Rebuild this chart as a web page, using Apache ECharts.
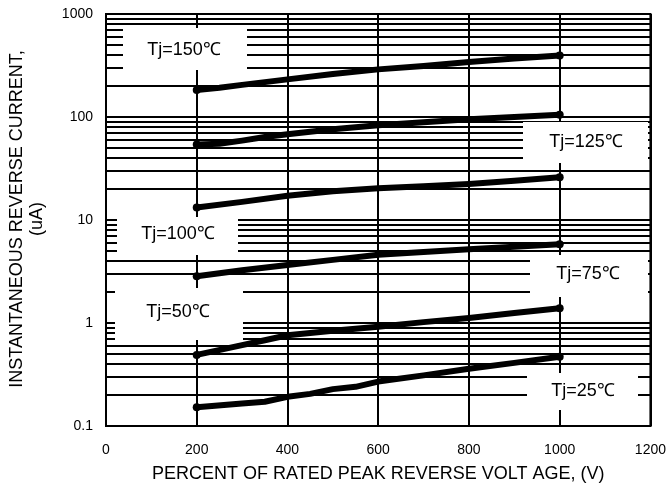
<!DOCTYPE html>
<html>
<head>
<meta charset="utf-8">
<script src="https://cdn.jsdelivr.net/npm/echarts@6/dist/echarts.min.js"></script>
<style>html,body{margin:0;padding:0;background:#fff}#c{width:669px;height:489px}</style>
</head>
<body>
<div id="c"></div>
<script>
// ---- data ----
var xTickLabels = ['0', '200', '400', '600', '800', '1000', '1200'];
var yTickLabels = ['0.1', '1', '10', '100', '1000'];
var minorGridValues = [0.2, 0.3, 0.4, 0.5, 0.6, 0.7, 0.8, 0.9,
                       2, 3, 4, 5, 6, 7, 8, 9,
                       20, 30, 40, 50, 60, 70, 80, 90,
                       200, 300, 400, 500, 600, 700, 800, 900];
var seriesNames = ['Tj=150℃', 'Tj=125℃', 'Tj=100℃', 'Tj=75℃', 'Tj=50℃', 'Tj=25℃'];
var tj150 = [[200,183],[250,192],[300,205],[400,232],[500,262],[600,290],[700,312],[800,342],[900,370],[1000,395]];
var tj125 = [[200,54],[250,55],[300,59],[350,64],[400,68],[500,76],[600,83],[700,89],[800,95],[900,100],[1000,105]];
var tj100 = [[200,13.2],[300,15],[400,17.2],[500,19],[600,20.3],[700,21.3],[800,22.4],[900,24],[1000,26]];
var tj75  = [[200,2.85],[300,3.25],[400,3.65],[500,4.1],[600,4.6],[700,4.9],[800,5.2],[900,5.5],[1000,5.8]];
var tj50  = [[200,0.49],[300,0.61],[350,0.68],[400,0.76],[500,0.84],[600,0.92],[700,1.02],[800,1.12],[900,1.25],[1000,1.39]];
var tj25  = [[200,0.152],[300,0.165],[350,0.172],[400,0.192],[450,0.205],[500,0.228],[550,0.24],[600,0.27],[700,0.31],[800,0.36],[900,0.41],[1000,0.47]];
var allSeries = [tj150, tj125, tj100, tj75, tj50, tj25];

// ---- layout (pixels) for annotation boxes ----
var boxes = [
  {x:123, y:28,  w:124, h:42, tx:184, ty:50},
  {x:523, y:122, w:125, h:41, tx:586, ty:142},
  {x:117, y:217, w:121, h:38, tx:178, ty:234},
  {x:530, y:255, w:118, h:42, tx:588, ty:274},
  {x:115, y:288, w:128, h:52, tx:178, ty:312},
  {x:527, y:373, w:111, h:37, tx:583, ty:391}
];

var FONT = 'Liberation Sans, Arial, Helvetica, sans-serif';
var chart = echarts.init(document.getElementById('c'), null, {renderer: 'canvas'});

var series = allSeries.map(function (d, i) {
  return {
    name: seriesNames[i],
    type: 'line',
    data: d,
    z: 5,
    symbol: 'circle',
    showAllSymbol: true,
    symbolSize: function (v, p) { return (p.dataIndex === 0 || p.dataIndex === d.length - 1) ? 8 : 0; },
    itemStyle: {color: '#000'},
    lineStyle: {color: '#000', width: 6, cap: 'round', join: 'round'},
    emphasis: {disabled: true},
    animation: false
  };
});
series.push({
  type: 'line',
  data: [],
  silent: true,
  markLine: {
    silent: true,
    symbol: 'none',
    animation: false,
    label: {show: false},
    lineStyle: {color: '#000', width: 2, type: 'solid'},
    data: minorGridValues.map(function (v) { return {yAxis: v}; })
  }
});

var graphics = [];
boxes.forEach(function (b, i) {
  graphics.push({type: 'rect', z: 100, shape: {x: b.x, y: b.y, width: b.w, height: b.h}, style: {fill: '#fff'}});
  graphics.push({type: 'text', z: 101, x: b.tx, y: b.ty,
    style: {text: seriesNames[i], fill: '#000', font: '18px ' + FONT, align: 'center', verticalAlign: 'middle'}});
});
graphics.push({type: 'text', z: 101, x: 17, y: 219, rotation: Math.PI / 2,
  style: {text: 'INSTANTANEOUS REVERSE CURRENT,', fill: '#000', font: '18px ' + FONT, align: 'center', verticalAlign: 'middle'}});
graphics.push({type: 'text', z: 101, x: 37, y: 219, rotation: Math.PI / 2,
  style: {text: '(uA)', fill: '#000', font: '18px ' + FONT, align: 'center', verticalAlign: 'middle'}});

chart.setOption({
  animation: false,
  backgroundColor: '#fff',
  grid: {left: 106, right: 18, top: 14, bottom: 63, show: true, borderColor: '#000', borderWidth: 2, backgroundColor: 'transparent'},
  xAxis: {
    type: 'value', min: 0, max: 1200, interval: 200,
    name: 'PERCENT OF RATED PEAK REVERSE VOLT AGE, (V)',
    nameLocation: 'middle', nameGap: 39,
    nameTextStyle: {color: '#000', fontSize: 18, fontFamily: FONT},
    axisLine: {show: true, lineStyle: {color: '#000', width: 2}},
    axisTick: {show: false},
    axisLabel: {color: '#000', fontSize: 14, fontFamily: FONT, margin: 17,
      formatter: function (v) { return xTickLabels[Math.round(v / 200)]; }},
    splitLine: {show: true, lineStyle: {color: '#000', width: 2}}
  },
  yAxis: {
    type: 'log', logBase: 10, min: 0.1, max: 1000,
    axisLine: {show: true, lineStyle: {color: '#000', width: 2}},
    axisTick: {show: false},
    axisLabel: {color: '#000', fontSize: 14, fontFamily: FONT, margin: 13,
      formatter: function (v) { var k = Math.round(Math.log10(v)) + 1; return yTickLabels[k]; }},
    splitLine: {show: true, lineStyle: {color: '#000', width: 2}},
    minorTick: {show: false},
    minorSplitLine: {show: false}
  },
  graphic: graphics,
  series: series
});
</script>
</body>
</html>
